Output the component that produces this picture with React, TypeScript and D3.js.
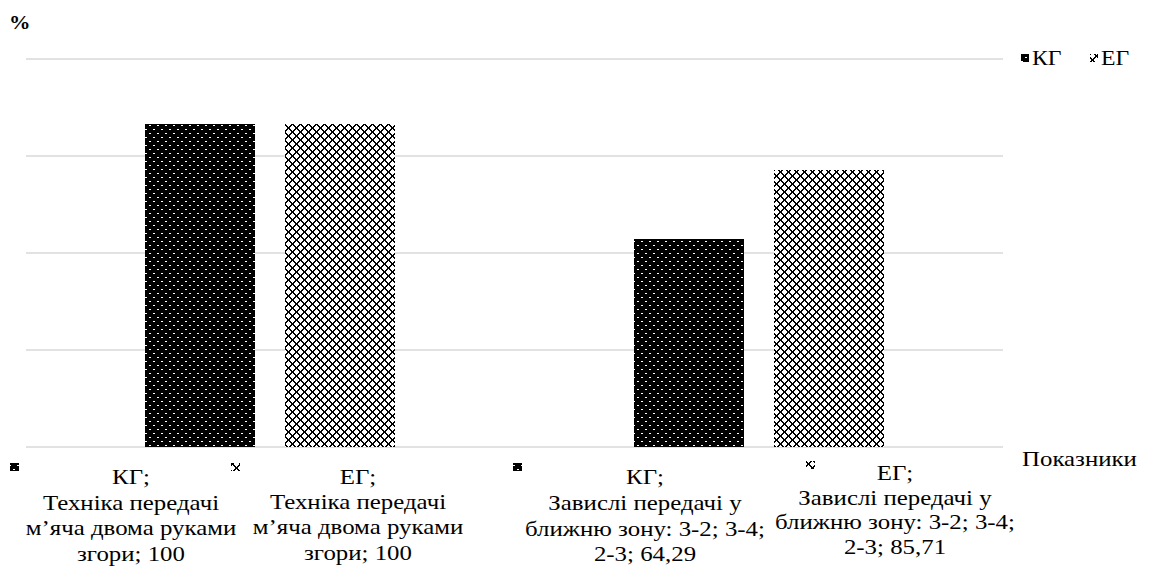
import React from "react";
import * as d3 from "d3";

const categories = [
  "Техніка передачі м’яча двома руками згори",
  "Завислі передачі у ближню зону: 3-2; 3-4; 2-3",
];
const seriesNames = ["КГ", "ЕГ"];
const kgValues = [100, 64.29];
const egValues = [100, 85.71];
const yTicks = [0, 30, 60, 90, 120];
// wrapped lines of each category name, as they appear in the data labels
const categoryLines = [
  ["Техніка передачі", "м’яча двома руками", "згори;"],
  ["Завислі передачі у", "ближню зону: 3-2; 3-4;", "2-3;"],
];
const yAxisTitle = "%";
const xAxisTitle = "Показники";

const W = 1160;
const H = 567;
const plot = { left: 26, right: 1003, top: 59, bottom: 447 };
const FONT = "Liberation Serif";
const SX = 1.13; // horizontal stretch of the text in the reference

// label layout: [category][series] -> text center, key position, first baseline, line step
const labelLayout = [
  [
    { cx: 131, kx: 10, ky: 463, y0: 484, dy: 25.6 },
    { cx: 358, kx: 231, ky: 463, y0: 484, dy: 25.2 },
  ],
  [
    { cx: 645, kx: 513, ky: 463, y0: 484, dy: 25.8 },
    { cx: 895, kx: 806, ky: 461, y0: 480, dy: 24.5 },
  ],
];

const fmt = (v: number) => (Number.isInteger(v) ? String(v) : v.toFixed(2).replace(".", ","));

function PatternDefs() {
  const egPixels: [number, number][] = [];
  for (let x = 0; x < 8; x++)
    for (let y = 0; y < 8; y++) {
      const d1 = (x - y + 8) % 8;
      const d2 = (x + y) % 8;
      if (d1 === 0 || d1 === 1 || d2 === 0 || d2 === 7) egPixels.push([x, y]);
    }
  return (
    <defs>
      <pattern id="pKG" patternUnits="userSpaceOnUse" width={8} height={8}>
        <rect width={8} height={8} fill="#000" />
        <rect x={1} y={1} width={2} height={1} fill="#fff" />
        <rect x={5} y={5} width={2} height={1} fill="#fff" />
      </pattern>
      <pattern id="pEG" patternUnits="userSpaceOnUse" width={8} height={8}>
        <rect width={8} height={8} fill="#fff" />
        {egPixels.map(([x, y], i) => (
          <rect key={i} x={x} y={y} width={1} height={1} fill="#000" />
        ))}
      </pattern>
    </defs>
  );
}

function T(props: {
  x: number;
  y: number;
  size: number;
  anchor?: string;
  bold?: boolean;
  children: React.ReactNode;
}) {
  return (
    <text
      transform={`translate(${props.x},${props.y}) scale(${SX},1)`}
      x={0}
      y={0}
      fontFamily={FONT}
      fontSize={props.size}
      fontWeight={props.bold ? "bold" : "normal"}
      textAnchor={props.anchor || "start"}
      fill="#000"
    >
      {props.children}
    </text>
  );
}

export default function App() {
  const y = d3.scaleLinear().domain([0, 120]).range([plot.bottom, plot.top]);
  const x0 = d3.scaleBand<string>().domain(categories).range([plot.left, plot.right]).padding(0);
  const groupW = 250;
  const x1 = d3.scaleBand<string>().domain(seriesNames).range([0, groupW]).paddingInner(0.214).paddingOuter(0);
  const values = [kgValues, egValues];
  const fills = ["url(#pKG)", "url(#pEG)"];

  return (
    <svg
      width={W}
      height={H}
      fontFamily={FONT}
      style={{ position: "absolute", left: 0, top: 0, fontFamily: `"${FONT}"` }}
    >
      <style>{`text, tspan { font-family: "${FONT}"; }`}</style>
      <PatternDefs />
      <rect width={W} height={H} fill="#fff" />
      {yTicks.map((t) => (
        <line
          key={t}
          x1={plot.left}
          x2={plot.right}
          y1={y(t)}
          y2={y(t)}
          stroke="#d9d9d9"
          strokeWidth={1.5}
        />
      ))}
      {categories.map((c, ci) => {
        const gx = (x0(c) as number) + x0.bandwidth() / 2 - groupW / 2;
        return seriesNames.map((s, si) => {
          const v = values[si][ci];
          return (
            <rect
              key={c + s}
              x={gx + (x1(s) as number)}
              y={y(v)}
              width={x1.bandwidth()}
              height={y(0) - y(v)}
              fill={fills[si]}
              shapeRendering="crispEdges"
            />
          );
        });
      })}
      {/* data labels */}
      {categories.map((c, ci) =>
        seriesNames.map((s, si) => {
          const L = labelLayout[ci][si];
          const lines = [s + ";", ...categoryLines[ci]];
          lines[lines.length - 1] = lines[lines.length - 1] + " " + fmt(values[si][ci]);
          return (
            <g key={"l" + c + s}>
              <rect x={L.kx} y={L.ky} width={9} height={8} fill={fills[si]} shapeRendering="crispEdges" />
              {lines.map((ln, li) => (
                <T key={li} x={L.cx} y={L.y0 + li * L.dy} size={22} anchor="middle">
                  {ln}
                </T>
              ))}
            </g>
          );
        })
      )}
      {/* legend */}
      {seriesNames.map((s, si) => {
        const lx = [1021, 1090][si];
        return (
          <g key={"lg" + s}>
            <rect x={lx} y={54} width={8} height={8} fill={fills[si]} shapeRendering="crispEdges" />
            <T x={lx + 11} y={65} size={21}>
              {s}
            </T>
          </g>
        );
      })}
      <T x={9} y={29} size={19} bold>
        {yAxisTitle}
      </T>
      <T x={1022} y={466} size={22}>
        {xAxisTitle}
      </T>
    </svg>
  );
}
